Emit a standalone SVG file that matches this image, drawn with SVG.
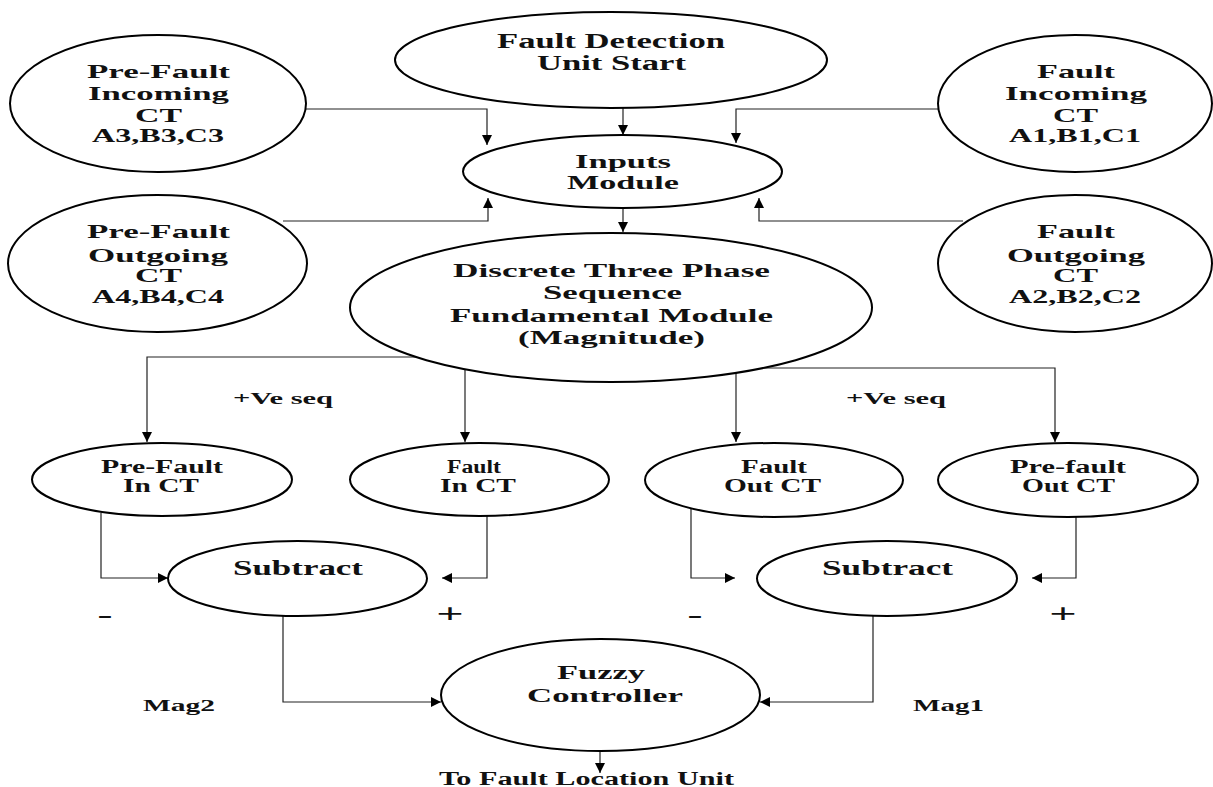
<svg xmlns="http://www.w3.org/2000/svg" width="1213" height="787" viewBox="0 0 1213 787">
<style>
.n{fill:#fff;stroke:#000;stroke-width:2}
.c{fill:none;stroke:#222;stroke-width:1.2}
text{font-family:"Liberation Serif","Times New Roman",serif;font-weight:bold;fill:#111}
.s20{font-size:20px}.s19{font-size:19px}.s18{font-size:18px}.s17{font-size:17px}.s16{font-size:16px}
.sg{font-family:"Liberation Sans",Arial,sans-serif;font-weight:normal;font-size:26px}
</style>
<defs>
<marker id="ah" viewBox="0 0 10 10" refX="10" refY="5" markerWidth="10" markerHeight="10" markerUnits="userSpaceOnUse" orient="auto">
<path d="M0,0 L10,5 L0,10 z" fill="#000"/>
</marker>
</defs>
<g id="connectors">
<path class="c" d="M306,109 H487 V145" marker-end="url(#ah)"/>
<path class="c" d="M623,108 V135" marker-end="url(#ah)"/>
<path class="c" d="M938,109 H736 V143" marker-end="url(#ah)"/>
<path class="c" d="M283,221 H488 V198" marker-end="url(#ah)"/>
<path class="c" d="M963,221 H759 V198" marker-end="url(#ah)"/>
<path class="c" d="M623,208 V232" marker-end="url(#ah)"/>
<path class="c" d="M416,357 H147 V442" marker-end="url(#ah)"/>
<path class="c" d="M465,369 V442" marker-end="url(#ah)"/>
<path class="c" d="M736,368 V442" marker-end="url(#ah)"/>
<path class="c" d="M736,368 H1055 V442" marker-end="url(#ah)"/>
<path class="c" d="M101,513 V578 H168" marker-end="url(#ah)"/>
<path class="c" d="M487,516 V578 H442" marker-end="url(#ah)"/>
<path class="c" d="M691,504 V578 H735" marker-end="url(#ah)"/>
<path class="c" d="M1076,517 V578 H1032" marker-end="url(#ah)"/>
<path class="c" d="M283,616 V702 H441" marker-end="url(#ah)"/>
<path class="c" d="M873,616 V702 H760" marker-end="url(#ah)"/>
<path class="c" d="M600,751 V773" marker-end="url(#ah)"/>
</g>
<g id="pre-fault-incoming">
<ellipse class="n" cx="158" cy="103.5" rx="148" ry="68.5"/>
<text class="s19" x="87" y="78" textLength="143" lengthAdjust="spacingAndGlyphs">Pre-Fault</text>
<text class="s19" x="88" y="100" textLength="141" lengthAdjust="spacingAndGlyphs">Incoming</text>
<text class="s19" x="135" y="122" textLength="47" lengthAdjust="spacingAndGlyphs">CT</text>
<text class="s19" x="92" y="142" textLength="132" lengthAdjust="spacingAndGlyphs">A3,B3,C3</text>
</g>
<g id="fault-detection">
<ellipse class="n" cx="611" cy="60" rx="216" ry="48"/>
<text class="s20" x="497" y="48" textLength="228" lengthAdjust="spacingAndGlyphs">Fault Detection</text>
<text class="s20" x="537" y="70" textLength="149" lengthAdjust="spacingAndGlyphs">Unit Start</text>
</g>
<g id="fault-incoming">
<ellipse class="n" cx="1075" cy="103.5" rx="137" ry="68.5"/>
<text class="s19" x="1037" y="78" textLength="78" lengthAdjust="spacingAndGlyphs">Fault</text>
<text class="s19" x="1005" y="100" textLength="142" lengthAdjust="spacingAndGlyphs">Incoming</text>
<text class="s19" x="1053" y="122" textLength="45" lengthAdjust="spacingAndGlyphs">CT</text>
<text class="s19" x="1009" y="142" textLength="132" lengthAdjust="spacingAndGlyphs">A1,B1,C1</text>
</g>
<g id="inputs-module">
<ellipse class="n" cx="622.5" cy="171.5" rx="159.5" ry="36.5"/>
<text class="s19" x="575" y="168" textLength="96" lengthAdjust="spacingAndGlyphs">Inputs</text>
<text class="s19" x="567" y="189" textLength="112" lengthAdjust="spacingAndGlyphs">Module</text>
</g>
<g id="pre-fault-outgoing">
<ellipse class="n" cx="157.5" cy="263.5" rx="149.5" ry="68.5"/>
<text class="s19" x="87" y="238" textLength="143" lengthAdjust="spacingAndGlyphs">Pre-Fault</text>
<text class="s19" x="88" y="262" textLength="140" lengthAdjust="spacingAndGlyphs">Outgoing</text>
<text class="s19" x="135" y="282" textLength="47" lengthAdjust="spacingAndGlyphs">CT</text>
<text class="s19" x="92" y="303" textLength="132" lengthAdjust="spacingAndGlyphs">A4,B4,C4</text>
</g>
<g id="fault-outgoing">
<ellipse class="n" cx="1075" cy="263.5" rx="137" ry="68.5"/>
<text class="s19" x="1037" y="238" textLength="78" lengthAdjust="spacingAndGlyphs">Fault</text>
<text class="s19" x="1007" y="262" textLength="138" lengthAdjust="spacingAndGlyphs">Outgoing</text>
<text class="s19" x="1053" y="282" textLength="45" lengthAdjust="spacingAndGlyphs">CT</text>
<text class="s19" x="1009" y="303" textLength="132" lengthAdjust="spacingAndGlyphs">A2,B2,C2</text>
</g>
<g id="discrete-module">
<ellipse class="n" cx="611" cy="307.5" rx="261" ry="74.5"/>
<text class="s18" x="453" y="277" textLength="317" lengthAdjust="spacingAndGlyphs">Discrete Three Phase</text>
<text class="s18" x="543" y="299" textLength="139" lengthAdjust="spacingAndGlyphs">Sequence</text>
<text class="s18" x="450" y="322" textLength="323" lengthAdjust="spacingAndGlyphs">Fundamental Module</text>
<text class="s18" x="518" y="344" textLength="187" lengthAdjust="spacingAndGlyphs">(Magnitude)</text>
</g>
<g id="pre-fault-in-ct">
<ellipse class="n" cx="162" cy="479.5" rx="130" ry="36.5"/>
<text class="s18" x="101" y="473" textLength="122" lengthAdjust="spacingAndGlyphs">Pre-Fault</text>
<text class="s18" x="123" y="492" textLength="76" lengthAdjust="spacingAndGlyphs">In CT</text>
</g>
<g id="fault-in-ct">
<ellipse class="n" cx="479.5" cy="479.5" rx="129.5" ry="36.5"/>
<text class="s18" x="447" y="473" textLength="54" lengthAdjust="spacingAndGlyphs">Fault</text>
<text class="s18" x="440" y="492" textLength="76" lengthAdjust="spacingAndGlyphs">In CT</text>
</g>
<g id="fault-out-ct">
<ellipse class="n" cx="774" cy="480" rx="129" ry="37"/>
<text class="s18" x="741" y="473" textLength="66" lengthAdjust="spacingAndGlyphs">Fault</text>
<text class="s18" x="724" y="492" textLength="97" lengthAdjust="spacingAndGlyphs">Out CT</text>
</g>
<g id="pre-fault-out-ct">
<ellipse class="n" cx="1068" cy="480" rx="130" ry="37"/>
<text class="s18" x="1010" y="473" textLength="116" lengthAdjust="spacingAndGlyphs">Pre-fault</text>
<text class="s18" x="1022" y="492" textLength="93" lengthAdjust="spacingAndGlyphs">Out CT</text>
</g>
<g id="subtract-left">
<ellipse class="n" cx="297.5" cy="578.5" rx="129.5" ry="37.5"/>
<text class="s20" x="233" y="575" textLength="130" lengthAdjust="spacingAndGlyphs">Subtract</text>
</g>
<g id="subtract-right">
<ellipse class="n" cx="887" cy="578.5" rx="130" ry="37.5"/>
<text class="s20" x="822" y="575" textLength="131" lengthAdjust="spacingAndGlyphs">Subtract</text>
</g>
<g id="fuzzy-controller">
<ellipse class="n" cx="600.5" cy="695" rx="159.5" ry="56"/>
<text class="s19" x="557" y="679" textLength="88" lengthAdjust="spacingAndGlyphs">Fuzzy</text>
<text class="s19" x="527" y="702" textLength="156" lengthAdjust="spacingAndGlyphs">Controller</text>
</g>
<g id="labels">
<text class="s16" x="233" y="404" textLength="100" lengthAdjust="spacingAndGlyphs">+Ve seq</text>
<text class="s16" x="846" y="404" textLength="100" lengthAdjust="spacingAndGlyphs">+Ve seq</text>
<text class="s17" x="143" y="711" textLength="72" lengthAdjust="spacingAndGlyphs">Mag2</text>
<text class="s17" x="913" y="711" textLength="71" lengthAdjust="spacingAndGlyphs">Mag1</text>
<text class="s18" x="439" y="785" textLength="295" lengthAdjust="spacingAndGlyphs">To Fault Location Unit</text>
<text class="sg" x="450" y="622" text-anchor="middle" textLength="27" lengthAdjust="spacingAndGlyphs">+</text>
<text class="sg" x="1063" y="622" text-anchor="middle" textLength="27" lengthAdjust="spacingAndGlyphs">+</text>
<text class="sg" x="105" y="624" text-anchor="middle" textLength="16" lengthAdjust="spacingAndGlyphs">-</text>
<text class="sg" x="695" y="624" text-anchor="middle" textLength="16" lengthAdjust="spacingAndGlyphs">-</text>
</g>
</svg>
